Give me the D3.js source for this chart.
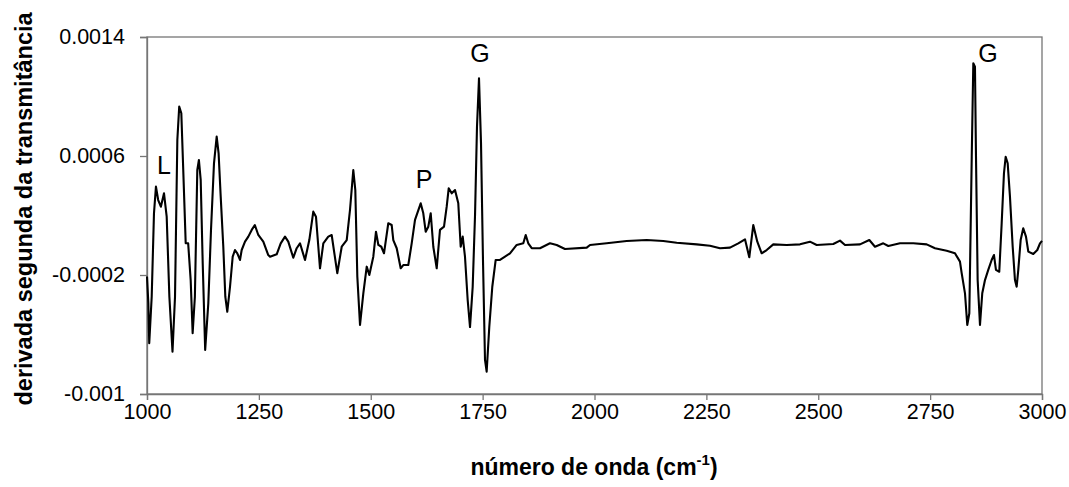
<!DOCTYPE html>
<html>
<head>
<meta charset="utf-8">
<script src="https://cdn.jsdelivr.net/npm/d3@7"></script>
<style>
  html, body { margin: 0; padding: 0; background: #fff; }
  svg { display: block; font-family: Arial, "Liberation Sans", sans-serif; }
</style>
</head>
<body>
<svg id="chart" width="1069" height="487"></svg>
<script>
// ---- data ----
const wavenumber = [
  1000,1003,1005,1010.5,1015.6,1020,1025,1031,1038,1044,1050,1057,1062.6,1067.8,1072,1076.7,1081,1086.5,1092,1097.6,
  1102,1107,1112.4,1116,1120,1124.5,1130,1137,1143,1149.7,1155.7,1160,1164.7,1170.5,1175,1179.4,1185.5,1191.5,1196.6,1201.8,
  1207.8,1211.6,1219,1226.4,1234,1241,1248.7,1259.9,1271,1274.9,1289.8,1298.8,1308.4,1315.7,1326.9,1334.5,1341.9,1353.1,1362.7,1371.6,
  1377.6,1386.6,1394,1405.1,1412.7,1425.2,1435.1,1446.3,1453.6,1461,1465.5,1470,1476,1483.4,1491,1496.8,1505.7,1511.7,1517,1523.6,
  1529.6,1539.2,1546.8,1550.4,1558,1566.9,1572.7,1583.9,1591.5,1598.9,1611.6,1617.4,1622.8,1628.6,1634,1639.8,1647.4,1654.7,1663.7,1669.7,
  1674.2,1680.9,1688.3,1695.6,1701,1705.5,1710.6,1716.6,1721.8,1727.8,1733,1737.4,1741.9,1746.4,1750.8,1755.3,1759,1764.9,1771.6,1779.2,
  1788.8,1800,1811.2,1826.1,1840.9,1846.3,1852,1859.7,1878.2,1900.5,1915.5,1934,1982.6,1990,2027.2,2071.9,2116.6,2153.7,2183.7,2228.4,
  2258.1,2280.4,2302.8,2321.3,2336.3,2345.9,2354.8,2363.8,2373.6,2384.8,2399.5,2429.4,2459.2,2481.5,2496.5,2533.6,2548.6,2559.8,2593.3,2614.1,
  2626.8,2645.3,2656.6,2682.7,2712.4,2742.3,2760.9,2787,2805.5,2816.7,2820.5,2827.9,2833,2837.6,2843,2846.5,2850.2,2852.5,2856.2,2861.4,
  2866.5,2872.6,2879.9,2887.5,2892.7,2897.1,2904.5,2909.9,2915,2918.8,2923.3,2928.4,2934.5,2939.6,2943.4,2947,2952.3,2958.1,2964.2,2969.4,
  2980.5,2989.5,2995.5,3000
];
const secondDerivative = [
  -2.1e-4,-3.9e-4,-6.59e-4,-3.46e-4,2.15e-4,3.94e-4,3.04e-4,2.59e-4,3.49e-4,1.92e-4,-3.46e-4,-7.16e-4,-3.46e-4,7.08e-4,9.32e-4,8.87e-4,5.06e-4,0.13e-4,0.13e-4,-2.34e-4,
  -5.92e-4,-3.46e-4,5.06e-4,5.73e-4,4.39e-4,-1.21e-4,-7.04e-4,-3.9e-4,1.03e-4,5.51e-4,7.30e-4,6.18e-4,3.27e-4,-0.1e-4,-3.46e-4,-4.47e-4,-2.79e-4,-0.77e-4,-0.32e-4,-0.54e-4,
  -0.99e-4,-0.32e-4,0.24e-4,0.58e-4,1.03e-4,1.36e-4,0.69e-4,0.24e-4,-0.66e-4,-0.77e-4,-0.61e-4,0.13e-4,0.58e-4,0.24e-4,-0.84e-4,-0.2e-4,0.13e-4,-0.99e-4,0.35e-4,2.26e-4,
  1.92e-4,-1.55e-4,0.13e-4,0.58e-4,0.69e-4,-1.88e-4,-0.1e-4,0.35e-4,2.37e-4,5.06e-4,3.71e-4,-2.11e-4,-5.36e-4,-3.23e-4,-1.44e-4,-2.0e-4,-0.77e-4,0.91e-4,0.02e-4,-0.1e-4,
  -0.54e-4,1.48e-4,1.36e-4,0.35e-4,-0.2e-4,-1.55e-4,-1.33e-4,-1.33e-4,0.13e-4,1.7e-4,2.82e-4,2.15e-4,0.91e-4,1.25e-4,2.15e-4,-0.1e-4,-1.55e-4,1.03e-4,1.25e-4,2.59e-4,
  3.83e-4,3.49e-4,3.71e-4,2.82e-4,-0.1e-4,0.58e-4,-0.77e-4,-3.68e-4,-5.5e-4,-2.79e-4,2.0e-4,7.97e-4,11.22e-4,6.85e-4,-0.99e-4,-7.71e-4,-8.5e-4,-5.48e-4,-2.79e-4,-0.99e-4,
  -0.99e-4,-0.77e-4,-0.54e-4,0.02e-4,0.13e-4,0.69e-4,0.13e-4,-0.2e-4,-0.2e-4,0.13e-4,0.02e-4,-0.25e-4,-0.16e-4,0.02e-4,0.13e-4,0.29e-4,0.35e-4,0.29e-4,0.17e-4,0.06e-4,
  -0.03e-4,-0.2e-4,-0.16e-4,0.13e-4,0.4e-4,-0.81e-4,1.36e-4,0.24e-4,-0.54e-4,-0.32e-4,0.06e-4,0.02e-4,0.06e-4,0.24e-4,0.02e-4,0.08e-4,0.31e-4,0.02e-4,0.06e-4,0.35e-4,
  -0.1e-4,0.13e-4,-0.05e-4,0.13e-4,0.13e-4,0.06e-4,-0.2e-4,-0.37e-4,-0.54e-4,-1.1e-4,-1.88e-4,-3.23e-4,-5.36e-4,-4.57e-4,5.95e-4,12.23e-4,12.0e-4,5.95e-4,-2.34e-4,-5.36e-4,
  -3.23e-4,-2.34e-4,-1.66e-4,-0.99e-4,-0.66e-4,-1.66e-4,-1.78e-4,1.48e-4,4.84e-4,5.95e-4,5.51e-4,3.27e-4,-0.1e-4,-2.34e-4,-2.79e-4,-1.66e-4,0.35e-4,1.14e-4,0.58e-4,-0.43e-4,
  -0.59e-4,-0.32e-4,0.13e-4,0.29e-4
];
const xTicks = [1000, 1250, 1500, 1750, 2000, 2250, 2500, 2750, 3000];
const yTicks = [-0.001, -0.0002, 0.0006, 0.0014];
const yTickLabels = ["-0.001", "-0.0002", "0.0006", "0.0014"];
const peakLabels = ["L", "P", "G", "G"];
const peakLabelX = [1038, 1619, 1744, 2879];
const peakLabelY = [0.000479, 0.000385, 0.001232, 0.001232];

// ---- layout ----
const svg = d3.select("#chart");
const margin = {left: 147, top: 37, right: 1069 - 1042, bottom: 487 - 394};
const W = 1069 - margin.left - margin.right;
const H = 487 - margin.top - margin.bottom;
const axisColor = "#767676";
const fontFam = "Arial, 'Liberation Sans', sans-serif";

const x = d3.scaleLinear().domain([1000, 3000]).range([0, W]);
const y = d3.scaleLinear().domain([-0.001, 0.0014]).range([H, 0]);

const g = svg.append("g").attr("transform", `translate(${margin.left},${margin.top})`);

// frame
g.append("rect").attr("x", 0).attr("y", 0).attr("width", W).attr("height", H)
  .attr("fill", "none").attr("stroke", axisColor).attr("stroke-width", 1.3);

// x axis
const xAxis = g.append("g").attr("transform", `translate(0,${H})`)
  .call(d3.axisBottom(x).tickValues(xTicks).tickSize(6).tickPadding(4).tickFormat(d3.format("d")));
xAxis.select(".domain").attr("stroke", axisColor).attr("stroke-width", 1.3);
xAxis.selectAll(".tick line").attr("stroke", axisColor).attr("stroke-width", 1.3);
xAxis.selectAll(".tick text").attr("fill", "#000").attr("font-size", 21.5)
  .attr("font-family", fontFam);

// y axis
const yAxis = g.append("g")
  .call(d3.axisLeft(y).tickValues(yTicks).tickSize(7).tickPadding(15)
    .tickFormat((d, i) => yTickLabels[i]));
yAxis.select(".domain").attr("stroke", axisColor).attr("stroke-width", 1.3);
yAxis.selectAll(".tick line").attr("stroke", axisColor).attr("stroke-width", 1.3);
yAxis.selectAll(".tick text").attr("fill", "#000").attr("font-size", 21.5)
  .attr("font-family", fontFam);

// spectrum line
const data = wavenumber.map((w, i) => ({w, v: secondDerivative[i]}));
const line = d3.line().x(d => x(d.w)).y(d => y(d.v)).curve(d3.curveLinear);
g.append("path").datum(data).attr("d", line)
  .attr("fill", "none").attr("stroke", "#000").attr("stroke-width", 2.1)
  .attr("stroke-linejoin", "round");

// peak labels
g.selectAll("text.peak").data(peakLabels).join("text")
  .attr("class", "peak")
  .attr("x", (d, i) => x(peakLabelX[i]))
  .attr("y", (d, i) => y(peakLabelY[i]))
  .attr("text-anchor", "middle")
  .attr("font-size", 25)
  .attr("fill", "#000")
  .text(d => d);

// axis titles
svg.append("text")
  .attr("transform", `translate(32,209) rotate(-90)`)
  .attr("text-anchor", "middle")
  .attr("font-size", 23.5).attr("font-weight", "bold")
  .text("derivada segunda da transmitância");

const xt = svg.append("text")
  .attr("x", 594)
  .attr("y", 475)
  .attr("text-anchor", "middle")
  .attr("font-size", 23).attr("font-weight", "bold");
xt.append("tspan").text("número de onda (cm");
xt.append("tspan").attr("dy", -10).attr("font-size", 15).text("-1");
xt.append("tspan").attr("dy", 10).text(")");
</script>
</body>
</html>
